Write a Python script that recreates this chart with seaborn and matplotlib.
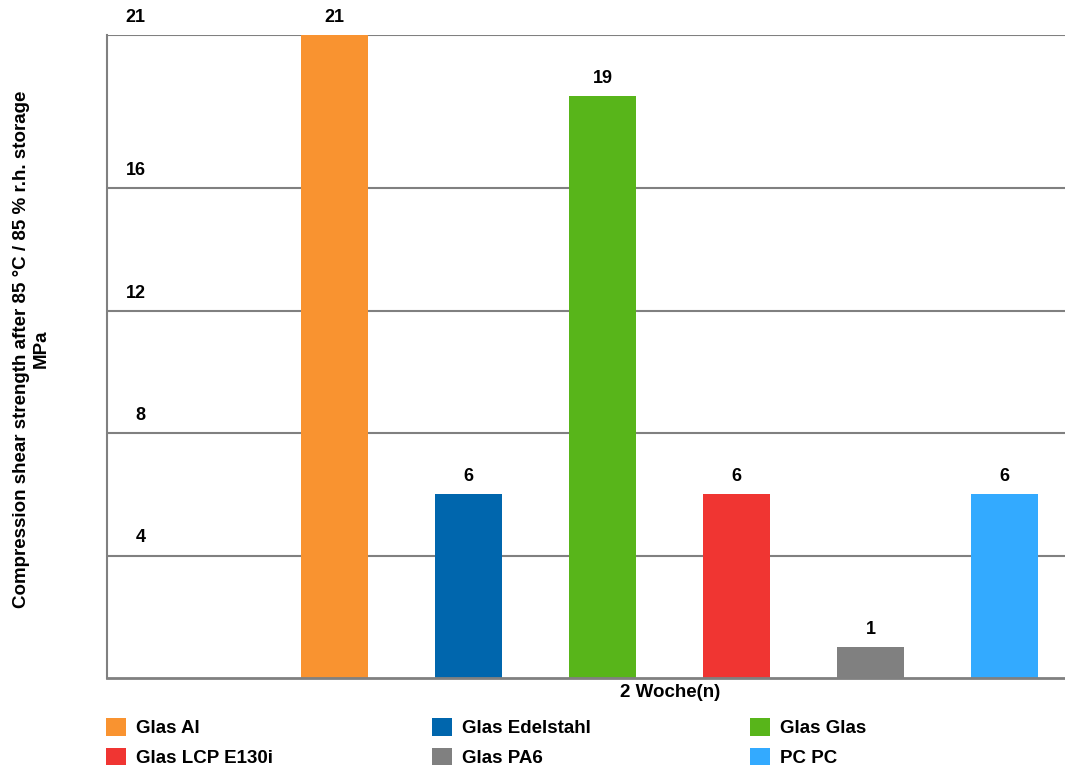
import matplotlib
matplotlib.use("Agg")
import matplotlib.pyplot as plt
import seaborn as sns
import pandas as pd
from matplotlib.patches import Patch
from matplotlib.transforms import blended_transform_factory

categories = ["Glas Al", "Glas Edelstahl", "Glas Glas", "Glas LCP E130i", "Glas PA6", "PC PC"]
values = [21, 6, 19, 6, 1, 6]
colors = ["#F99330", "#0066AD", "#58B51A", "#F03532", "#808080", "#33AAFF"]
yticks = [4, 8, 12, 16, 21]
group_label = "2 Woche(n)"
ylabel = "Compression shear strength after 85 °C / 85 % r.h. storage\nMPa"

sns.set_style("white")
plt.rcParams['font.family'] = ['Liberation Sans', 'DejaVu Sans']
plt.rcParams['font.weight'] = 'bold'
plt.rcParams['font.size'] = 13.5
plt.rcParams['text.color'] = 'black'
plt.rcParams['xtick.color'] = 'black'

FS = 13.5

df = pd.DataFrame({"cat": categories, "val": values})

fig = plt.figure(figsize=(10.65, 7.74), dpi=100)
ax = fig.add_axes([107/1065, 96/774, 958/1065, 643/774])

sns.barplot(data=df, x="cat", y="val", hue="cat", palette=colors, order=categories,
            hue_order=categories, width=0.5, legend=False, ax=ax, saturation=1,
            linewidth=0, edgecolor="none")

ax.set_xlim(-1.70, 5.45)
ax.set_ylim(0, 21)
ax.set_yticks(yticks)
ax.set_yticklabels([])
ax.tick_params(axis='both', length=0)
ax.set_xticks([2.5])
ax.set_xticklabels([group_label], fontsize=FS, fontweight="bold", color="black")
ax.tick_params(axis='x', pad=4)
ax.set_xlabel("")
ax.set_ylabel("")
ax.yaxis.grid(True, color="#808080", linewidth=1.5)
ax.set_axisbelow(True)
for s in ["top", "right"]:
    ax.spines[s].set_visible(False)
ax.spines["left"].set_color("#808080")
ax.spines["left"].set_linewidth(1.5)
ax.spines["bottom"].set_color("#808080")
ax.spines["bottom"].set_linewidth(2)

trans = blended_transform_factory(ax.transAxes, ax.transData)
for t in yticks:
    ax.annotate(str(t), xy=(38.5/958, t), xycoords=trans, xytext=(0, 6.5),
                textcoords="offset points", ha="right", va="bottom",
                fontsize=13, fontweight="bold", color="black")

for cont in ax.containers:
    ax.bar_label(cont, padding=6.5, fontsize=13, fontweight="bold", color="black")

fig.text(31/1065, 1 - 349/774, ylabel, rotation=90, ha="center", va="center",
         multialignment="center", fontsize=FS, fontweight="bold", color="black")

handles = [Patch(facecolor=c, edgecolor="none", label=l) for c, l in zip(colors, categories)]
order = [0, 3, 1, 4, 2, 5]
leg = fig.legend([handles[i] for i in order], [categories[i] for i in order], ncol=3,
                 loc="upper left", bbox_to_anchor=(106/1065, 1 - 718/774),
                 frameon=False, handlelength=1.07, handleheight=1.07,
                 handletextpad=0.53, columnspacing=8.48, labelspacing=0.55,
                 borderpad=0, borderaxespad=0,
                 prop={"weight": "bold", "size": FS})

fig.savefig("out.png", dpi=100)
